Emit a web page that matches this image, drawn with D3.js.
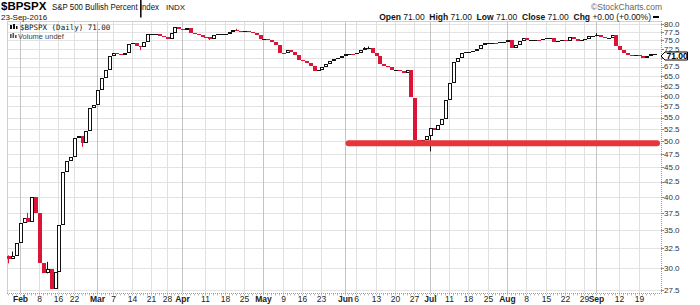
<!DOCTYPE html>
<html><head><meta charset="utf-8">
<script src="https://cdn.jsdelivr.net/npm/d3@7"></script>
<style>html,body{margin:0;padding:0;background:#fff;} svg{display:block;font-family:"Liberation Sans",Arial,sans-serif;}</style>
</head><body><svg id="c" width="700" height="305"></svg>
<script>
// ---- data (2016 trading days) ----
const dates = [
"01-27","01-28","01-29",
"02-01","02-02","02-03","02-04","02-05","02-08","02-09","02-10","02-11","02-12","02-16","02-17","02-18","02-19","02-22","02-23","02-24","02-25","02-26","02-29",
"03-01","03-02","03-03","03-04","03-07","03-08","03-09","03-10","03-11","03-14","03-15","03-16","03-17","03-18","03-21","03-22","03-23","03-24","03-28","03-29","03-30","03-31",
"04-01","04-04","04-05","04-06","04-07","04-08","04-11","04-12","04-13","04-14","04-15","04-18","04-19","04-20","04-21","04-22","04-25","04-26","04-27","04-28","04-29",
"05-02","05-03","05-04","05-05","05-06","05-09","05-10","05-11","05-12","05-13","05-16","05-17","05-18","05-19","05-20","05-23","05-24","05-25","05-26","05-27","05-31",
"06-01","06-02","06-03","06-06","06-07","06-08","06-09","06-10","06-13","06-14","06-15","06-16","06-17","06-20","06-21","06-22","06-23","06-24","06-27","06-28","06-29","06-30",
"07-01","07-05","07-06","07-07","07-08","07-11","07-12","07-13","07-14","07-15","07-18","07-19","07-20","07-21","07-22","07-25","07-26","07-27","07-28","07-29",
"08-01","08-02","08-03","08-04","08-05","08-08","08-09","08-10","08-11","08-12","08-15","08-16","08-17","08-18","08-19","08-22","08-23","08-24","08-25","08-26","08-29","08-30","08-31",
"09-01","09-02","09-06","09-07","09-08","09-09","09-12","09-13","09-14","09-15","09-16","09-19","09-20","09-21","09-22","09-23"];
const opens = [
31.5,31.2,31.5,
33.2,36.0,36.8,36.1,39.9,37.5,30.7,29.4,29.9,27.6,29.6,35.7,44.2,46.1,47.0,50.6,51.0,49.6,52.0,57.1,
57.8,61.4,64.4,66.6,70.4,71.4,71.0,70.8,71.2,73.8,74.3,73.3,72.9,74.6,76.8,76.9,77.0,76.4,75.9,75.4,77.1,79.2,
78.4,78.2,78.7,77.4,77.0,76.6,76.1,75.9,75.5,76.7,76.8,76.9,77.0,77.7,78.2,77.9,77.8,77.9,77.7,77.3,76.6,
75.3,75.4,75.1,74.6,73.7,71.3,71.2,72.2,71.6,70.8,69.4,69.0,68.6,67.6,66.3,66.5,67.4,68.2,69.0,69.5,69.8,
70.5,70.9,71.0,70.9,71.3,72.2,72.6,72.7,71.4,70.4,68.1,67.7,67.4,66.6,66.7,66.3,65.9,66.5,59.5,50.2,50.1,50.3,
51.1,52.7,52.4,53.4,54.6,59.0,63.2,68.8,69.8,71.4,71.6,71.7,71.8,72.3,73.7,74.2,74.2,74.3,74.2,74.6,
74.6,75.1,72.8,73.7,74.8,75.6,75.0,75.0,75.1,75.0,75.5,75.6,75.6,74.4,74.9,75.0,74.9,76.1,75.5,74.9,75.0,75.5,76.2,
76.2,76.5,76.0,75.7,75.7,76.6,73.2,72.2,71.3,70.8,70.5,70.6,70.5,69.8,70.3,71.0];
const closes = [
31.2,31.5,33.2,
36.0,36.8,36.1,39.9,37.5,30.7,29.4,29.9,27.6,29.6,35.7,44.2,46.1,47.0,50.6,51.0,49.6,52.0,57.1,57.8,
61.4,64.4,66.6,70.4,71.4,71.0,70.8,71.2,73.8,74.3,73.3,72.9,74.6,76.8,76.9,77.0,76.4,75.9,75.4,77.1,79.2,78.4,
78.2,78.7,77.4,77.0,76.6,76.1,75.9,75.5,76.7,76.8,76.9,77.0,77.7,78.2,77.9,77.8,77.9,77.7,77.3,76.6,75.3,
75.4,75.1,74.6,73.7,71.3,71.2,72.2,71.6,70.8,69.4,69.0,68.6,67.6,66.3,66.5,67.4,68.2,69.0,69.5,69.8,70.5,
70.9,71.0,70.9,71.3,72.2,72.6,72.7,71.4,70.4,68.1,67.7,67.4,66.6,66.7,66.3,65.9,66.5,59.8,50.2,50.1,50.3,51.1,
52.7,52.4,53.4,54.6,59.0,63.2,68.8,69.8,71.4,71.6,71.7,71.8,72.3,73.7,74.2,74.2,74.3,74.2,74.6,74.6,
75.1,72.8,73.7,74.8,75.6,75.0,75.0,75.1,75.0,75.5,75.6,75.6,74.4,74.9,75.0,74.9,76.1,75.5,74.9,75.0,75.5,76.2,76.2,
76.5,76.0,75.7,75.7,76.6,73.2,72.2,71.3,70.8,70.5,70.6,70.5,69.8,70.3,71.0,71.0];
// candles with shadows beyond the body
const wickDates = ["01-27","01-28","02-03","02-10","02-24","03-16","04-12","04-21","06-08","06-09","07-01","09-01"];
const wickHighs = [31.6,32.1,37.5,30.8,null,null,null,78.6,73.0,73.2,null,77.2];
const wickLows  = [30.6,null,null,null,48.9,72.1,75.1,null,null,72.4,48.0,null];
// axis ticks
const yGrid = [80.0,77.5,75.0,72.5,70.0,67.5,65.0,62.5,60.0,57.5,55.0,52.5,50.0,47.5,45.0,42.5,40.0,37.5,35.0,32.5,30.0,27.5];
const yLabels = [80.0,77.5,75.0,72.5,67.5,65.0,62.5,60.0,57.5,55.0,52.5,50.0,47.5,45.0,42.5,40.0,37.5,35.0,32.5,30.0,27.5];
const xTickDates = ["02-01","02-08","02-16","02-22","03-01","03-07","03-14","03-21","03-28","04-01","04-11","04-18","04-25","05-02","05-09","05-16","05-23","06-01","06-06","06-13","06-20","06-27","07-01","07-11","07-18","07-25","08-01","08-08","08-15","08-22","08-29","09-01","09-12","09-19"];
const xTickLabels = ["Feb","8","16","22","Mar","7","14","21","28","Apr","11","18","25","May","9","16","23","Jun","6","13","20","27","Jul","11","18","25","Aug","8","15","22","29","Sep","12","19"];
// annotation: support line
const supportLevel = [49.6];
const supportSpan = ["06-01","09-23"];
const lastClose = [71.00];

// ---- layout ----
const L = 7, R = 661, T = 21, B = 293;
const svg = d3.select("#c");
svg.append("rect").attr("width",700).attr("height",305).attr("fill","#fff");

const x = d3.scaleBand().domain(dates).range([7.17, 657.0]).paddingInner(0).paddingOuter(0);
const cx = d => Math.round(x(d) + x.bandwidth()/2);
const y = d3.scaleLog().domain([27.5, 80]).range([290, 24.3]);

// grid
const grid = svg.append("g");
grid.selectAll("line.h").data(yGrid).join("line")
  .attr("x1",L).attr("x2",R)
  .attr("y1",d=>Math.round(y(d))+0.5).attr("y2",d=>Math.round(y(d))+0.5)
  .attr("stroke","#e3e3e3").attr("stroke-width",1);
grid.selectAll("line.v").data(xTickDates).join("line")
  .attr("x1",d=>cx(d)-0.5).attr("x2",d=>cx(d)-0.5)
  .attr("y1",T).attr("y2",B)
  .attr("stroke",(d,i)=>isNaN(+xTickLabels[i]) ? "#c4c4c4" : "#e0e0e0").attr("stroke-width",1);

// frame
svg.append("line").attr("x1",L).attr("x2",R).attr("y1",T+0.5).attr("y2",T+0.5).attr("stroke","#cfcfcf");
svg.append("line").attr("x1",L+0.5).attr("x2",L+0.5).attr("y1",T).attr("y2",B).attr("stroke","#cfcfcf");
svg.append("line").attr("x1",L).attr("x2",R).attr("y1",B+0.5).attr("y2",B+0.5).attr("stroke","#9a9a9a").attr("stroke-dasharray","1,1");
svg.append("line").attr("x1",R+0.5).attr("x2",R+0.5).attr("y1",T).attr("y2",B+1).attr("stroke","#9a9a9a").attr("stroke-dasharray","1,1");
svg.append("g").selectAll("line").data(dates).join("line")
  .attr("x1",d=>cx(d)-0.5).attr("x2",d=>cx(d)-0.5).attr("y1",B+1).attr("y2",B+2.5)
  .attr("stroke","#bbb");
svg.append("g").selectAll("line").data(yGrid).join("line")
  .attr("x1",R).attr("x2",R+3).attr("y1",d=>Math.round(y(d))+0.5).attr("y2",d=>Math.round(y(d))+0.5)
  .attr("stroke","#888");

// candles
const rows = dates.map((d,i)=>({d, o:opens[i], c:closes[i], h:null, l:null}));
wickDates.forEach((d,k)=>{ const r = rows.find(e=>e.d===d); r.h = wickHighs[k]; r.l = wickLows[k]; });
const RED = "#dc1437";
const cg = svg.append("g");
rows.forEach(r=>{
  const px = cx(r.d);
  const up = r.c >= r.o;
  const col = up ? "#111" : RED;
  const top = Math.max(r.o,r.c), bot = Math.min(r.o,r.c);
  if (r.h != null || r.l != null) {
    cg.append("line").attr("x1",px-0.5).attr("x2",px-0.5)
      .attr("y1",y(r.h ?? top)).attr("y2",y(r.l ?? bot))
      .attr("stroke",col).attr("stroke-width",1);
  }
  const yt = Math.round(y(top)), yb = Math.round(y(bot));
  if (yb - yt < 2) {
    cg.append("rect").attr("x",px-2).attr("y",yt).attr("width",4).attr("height",Math.max(yb-yt,1)).attr("fill",col);
  } else if (up) {
    cg.append("rect").attr("x",px-1.5).attr("y",yt+0.5).attr("width",3).attr("height",yb-yt-1)
      .attr("fill","#fff").attr("stroke",col).attr("stroke-width",1);
  } else {
    cg.append("rect").attr("x",px-2).attr("y",yt).attr("width",4).attr("height",yb-yt).attr("fill",col);
  }
});

// support annotation line
const defs = svg.append("defs");
defs.append("filter").attr("id","blur").attr("x","-5%").attr("y","-100%").attr("width","110%").attr("height","300%")
  .append("feGaussianBlur").attr("stdDeviation",1.6);
const sx1 = x(supportSpan[0]) + x.bandwidth() + 1, sx2 = x(supportSpan[1]) + x.bandwidth();
const sy = y(supportLevel[0]);
svg.append("line").attr("x1",sx1).attr("x2",sx2).attr("y1",sy+0.5).attr("y2",sy+0.5)
  .attr("stroke","#f08a8a").attr("stroke-width",10).attr("stroke-linecap","round").attr("opacity",0.75).attr("filter","url(#blur)");
svg.append("line").attr("x1",sx1).attr("x2",sx2).attr("y1",sy).attr("y2",sy)
  .attr("stroke","#e8353a").attr("stroke-width",6).attr("stroke-linecap","round");

// y labels
svg.append("g").selectAll("text").data(yLabels).join("text")
  .attr("x",R+3).attr("y",d=>y(d)).attr("dy","0.35em")
  .attr("font-size",8).attr("fill","#333").text(d=>d3.format(".1f")(d));

// last price marker
const ly = Math.round(y(lastClose[0]))+2;
svg.append("path").attr("d",`M${R},${ly} L${R+4},${ly-4} H${R+26.5} V${ly+4} H${R+4} Z`)
  .attr("fill","#fff").attr("stroke","#000").attr("stroke-width",1);
svg.append("text").attr("x",R+5.5).attr("y",ly).attr("dy","0.34em").attr("font-size",8.5).attr("font-weight","bold")
  .attr("fill","#000").text(d3.format(".2f")(lastClose[0]));

// x labels
svg.append("g").selectAll("text").data(xTickDates).join("text")
  .attr("x",d=>cx(d)-0.5).attr("y",302).attr("text-anchor","middle")
  .attr("font-size",8.5).attr("fill","#222")
  .attr("font-weight",(d,i)=>isNaN(+xTickLabels[i]) ? "bold" : "normal")
  .text((d,i)=>xTickLabels[i]);

// header
svg.append("text").attr("x",1).attr("y",10).attr("font-size",11.5).attr("font-weight","bold").attr("fill","#000").text("$BPSPX");
svg.append("text").attr("x",52).attr("y",10).attr("font-size",8.5).attr("fill","#111")
  .attr("textLength",107).attr("lengthAdjust","spacingAndGlyphs").text("S&P 500 Bullish Percent Index");
svg.append("text").attr("x",166).attr("y",10).attr("font-size",8).attr("fill","#111").text("INDX");
svg.append("rect").attr("x",140).attr("y",0).attr("width",1.6).attr("height",17.5).attr("fill","#111");
svg.append("text").attr("x",1).attr("y",20).attr("font-size",8).attr("fill","#111").text("23-Sep-2016");
svg.append("text").attr("x",662).attr("y",9.5).attr("text-anchor","end").attr("font-size",8.5).attr("fill","#666").text("\u00A9StockCharts.com");

const ohlc = svg.append("text").attr("x",651).attr("y",19.5).attr("text-anchor","end").attr("font-size",8.5).attr("fill","#111").attr("xml:space","preserve");
const f2 = d3.format(".2f");
[["Open",f2(lastClose[0])],["High",f2(lastClose[0])],["Low",f2(lastClose[0])],["Close",f2(lastClose[0])],["Chg","+0.00 (+0.00%)"]].forEach((p,i)=>{
  ohlc.append("tspan").attr("font-weight","bold").text((i?"  ":"")+p[0]+" ");
  ohlc.append("tspan").text(p[1]);
});
svg.append("rect").attr("x",653).attr("y",16).attr("width",6).attr("height",2).attr("fill","#000");

// legend inside plot
const lg = svg.append("g");
lg.append("rect").attr("x",10).attr("y",25).attr("width",2).attr("height",4).attr("fill","#111");
lg.append("rect").attr("x",13).attr("y",24).attr("width",2).attr("height",5).attr("fill","#111");
lg.append("rect").attr("x",16).attr("y",26).attr("width",1.5).attr("height",3).attr("fill","#111");
lg.append("text").attr("x",20).attr("y",29.5).attr("font-family","'DejaVu Sans Mono',monospace").attr("font-size",7.5).attr("fill","#111").text("$BPSPX (Daily) 71.00");
[[10,34,4],[12.5,33,5],[15,35,3]].forEach(b=>lg.append("rect").attr("x",b[0]).attr("y",b[1]).attr("width",1.6).attr("height",b[2]).attr("fill","#555"));
lg.append("text").attr("x",18).attr("y",38.5).attr("font-size",7.5).attr("fill","#444").text("Volume undef");
</script></body></html>
